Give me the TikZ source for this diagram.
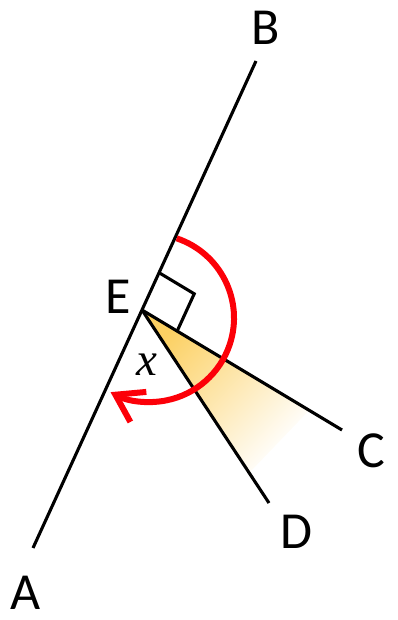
\documentclass[tikz,border=0pt]{standalone}
\usepackage{fontspec}
\setmainfont{Carlito}
\newfontfamily\xfont{Liberation Serif}
\usepackage{tikz}
\usetikzlibrary{arrows.meta, calc}
\definecolor{wedgeyellow}{RGB}{252,208,98}
\definecolor{arcred}{RGB}{252,0,8}

\begin{document}
\begin{tikzpicture}[x=1pt, y=1pt,
    ray/.style={line width=3.1pt},
    letter/.style={font=\fontsize{52}{52}\selectfont, inner sep=0pt}]
    \useasboundingbox (0,0) rectangle (398,620);

    % Точки
    \coordinate (A) at (33,72);
    \coordinate (B) at (256,559);
    \coordinate (E) at (142,310);
    \coordinate (C) at (342,190);
    \coordinate (D) at (269,117);

    % Заливка угла x (градиент)
    \coordinate (W1) at ($(E)!195pt!(C)$);
    \coordinate (W2) at ($(E)!195pt!(D)$);
    \shade[top color=wedgeyellow, bottom color=white, shading angle=47]
        (E) -- (W1) -- (W2) -- cycle;

    % Прямая AB и лучи EC, ED
    \draw[ray] (A) -- (B);
    \draw[ray] (E) -- (C);
    \draw[ray] (E) -- (D);

    % Прямой угол
    \coordinate (P) at ($(E)!41pt!(B)$);
    \coordinate (Q) at ($(E)!41pt!(C)$);
    \draw[ray] (P) -- ($(P)+(Q)-(E)$) -- (Q);

    % Красная дуга со стрелкой
    \coordinate (O) at (150,302);
    \draw[arcred, line width=6pt, -{Straight Barb[length=26pt, width=34pt]}]
        ($(O)+(71.5:84)$) arc[start angle=71.5, end angle=-118, radius=84];

    % Подписи
    \node[letter] (lA) at (26,27) {A};
    \node[letter] (lB) at (265.5,592.5) {B};
    \node[letter] (lC) at (371.5,169.5) {C};
    \node[letter] (lD) at (296,88.5) {D};
    \node[letter] (lE) at (118.5,323.5) {E};
    \node[inner sep=0pt, font=\xfont\itshape\fontsize{47}{47}\selectfont] (lx) at (147,255) {x};
\end{tikzpicture}
\end{document}
